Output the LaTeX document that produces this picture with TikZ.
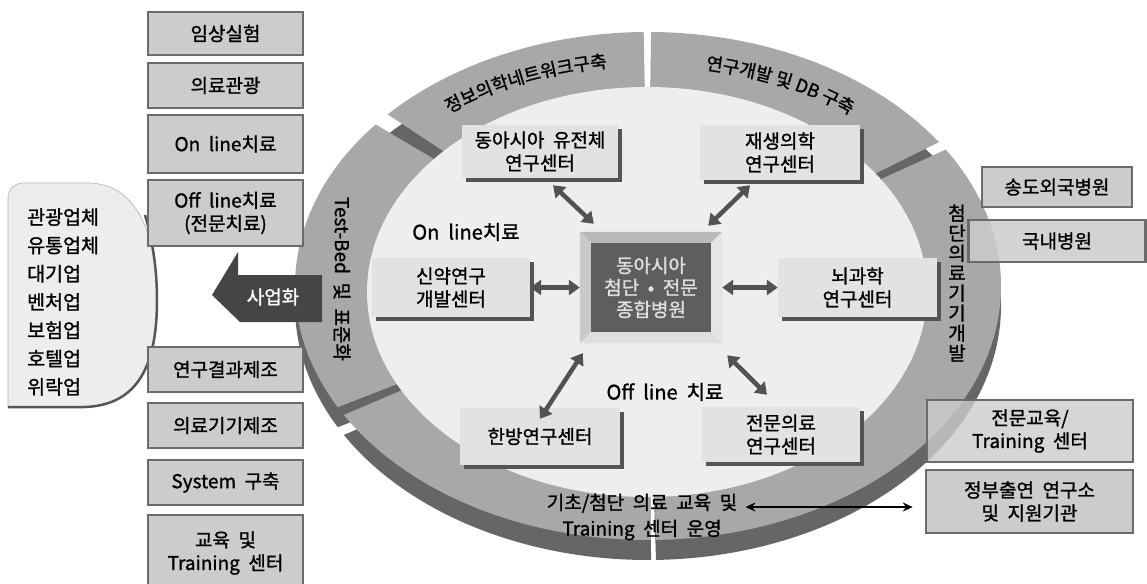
\documentclass[tikz,border=0pt]{standalone}
\usepackage{fontspec}
\setmainfont{Noto Sans CJK KR}[FakeBold=1.2]
\usetikzlibrary{arrows.meta,shadows,decorations.text,calc}
\definecolor{ringg}{gray}{0.66}
\definecolor{ringd}{gray}{0.40}
\definecolor{innerf}{gray}{0.935}
\definecolor{boxf}{gray}{0.885}
\definecolor{shad}{gray}{0.33}
\definecolor{colf}{gray}{0.80}
\definecolor{colb}{gray}{0.42}
\definecolor{arr}{gray}{0.32}
\definecolor{bizarr}{gray}{0.27}
\definecolor{cface}{gray}{0.37}
\definecolor{dshape}{gray}{0.93}
\newcommand\krf[2]{\fontsize{#1}{#2}\selectfont\spaceskip=0.45em\relax}
\newcommand\ringf{\fontsize{18pt}{18pt}\selectfont}
\begin{document}
\begin{tikzpicture}[x=1pt,y=1pt,
  colbox/.style={draw=colb, line width=2.5pt, fill=colf, inner sep=0pt, align=center, font=\krf{19pt}{23pt}},
  ibox/.style={fill=boxf, inner sep=0pt, align=center, font=\krf{19pt}{23pt},
     drop shadow={shadow xshift=3.5pt, shadow yshift=-3.5pt, fill=shad, opacity=1}},
  dbl/.style={{Triangle[length=11pt,width=15pt]}-{Triangle[length=11pt,width=15pt]}, line width=4.5pt, draw=arr},
  lbl/.style={inner sep=0pt, align=center, font=\krf{19pt}{26pt}}
]
\useasboundingbox (0,0) rectangle (1147,-583);
\fill[white] (0,0) rectangle (1147,-583);
\clip (0,0) rectangle (1147,-583);

% ---- ring (3D thickness, then top surface) ----
\begin{scope}[yshift=-20pt]
\foreach \a/\b in {-29/32.5, 34.5/89.5, 90.7/137.5, 140.5/208.5, 210.5/270.5, 271.3/331}
  \fill[ringd] (648,-286) -- +(\a:353 and 254) arc[start angle=\a, end angle=\b, x radius=353, y radius=254] -- cycle;
\end{scope}
\foreach \a/\b in {-29/32.5, 34.5/89.5, 90.7/137.5, 140.5/208.5, 210.5/270.5, 271.3/331}
  \fill[ringg] (648,-286) -- +(\a:353 and 254) arc[start angle=\a, end angle=\b, x radius=353, y radius=254] -- cycle;
\fill[innerf] (647,-292) ellipse [x radius=280, y radius=205];

% ring labels
\path[decorate, decoration={text along path, text align=center, text={|\ringf|정보의학네트워크구축}}]
  (648,-288) ++(133:322 and 222) arc[start angle=133, end angle=93, x radius=322, y radius=222];
\path[decorate, decoration={text along path, text align=center, text={|\ringf|연구개발 및 DB 구축}}]
  (648,-288) ++(86:322 and 222) arc[start angle=86, end angle=44, x radius=322, y radius=222];
\node[lbl, rotate=-90] (tb) at (342,-279) {Test-Bed 및 표준화};
\node[lbl, font=\krf{19pt}{20pt}] (cd) at (957,-283) {첨\\단\\의\\료\\기\\기\\개\\발};
\node[lbl] (bl) at (642,-517) {기초/첨단 의료 교육 및\\Training 센터 운영};

% ---- left rounded shape ----
\fill[dshape, draw=gray!60, line width=0.6pt] (8,-198) arc[start angle=180, end angle=90, radius=15] -- (90,-183)
  .. controls (140,-185) and (157,-240) .. (157,-300)
  .. controls (157,-362) and (140,-405) .. (85,-407) -- (8,-407) -- cycle;
\draw[colb!80!black, line width=2.5pt] (145,-215) .. controls (154,-245) and (157,-275) .. (157,-300)
  .. controls (157,-362) and (140,-405) .. (85,-407) -- (8,-407);
\node[lbl, anchor=west, align=left, font=\krf{19.5pt}{28.3pt}] (biz) at (27,-302)
  {관광업체\\유통업체\\대기업\\벤처업\\보험업\\호텔업\\위락업};

% ---- left column ----
\node[colbox, minimum width=155pt, minimum height=43pt] (b1) at (225.5,-33.5) {임상실험};
\node[colbox, minimum width=155pt, minimum height=45pt] (b2) at (225.5,-85.5) {의료관광};
\node[colbox, minimum width=155pt, minimum height=58pt] (b3) at (225.5,-144) {On line치료};
\node[colbox, minimum width=155pt, minimum height=66pt] (b4) at (225.5,-213) {Off line치료\\(전문치료)};
\node[colbox, minimum width=155pt, minimum height=45pt] (b5) at (225.5,-369.5) {연구결과제조};
\node[colbox, minimum width=155pt, minimum height=45pt] (b6) at (225.5,-425.5) {의료기기제조};
\node[colbox, minimum width=155pt, minimum height=45pt] (b7) at (225.5,-482.5) {System 구축};
\node[colbox, minimum width=155pt, minimum height=76pt] (b8) at (225.5,-553) {교육 및\\Training 센터};

% ---- 사업화 arrow ----
\fill[bizarr] (212,-295) -- (238,-252) -- (238,-275) -- (322,-275) -- (322,-322) -- (240,-322) -- cycle;
\node[lbl, text=white] (sa) at (273,-297) {사업화};

% ---- inner boxes ----
\node[ibox, minimum width=156pt, minimum height=53pt] (g1) at (540,-151.5) {동아시아 유전체\\연구센터};
\node[ibox, minimum width=160pt, minimum height=55pt] (g2) at (780,-152.5) {재생의학\\연구센터};
\node[ibox, minimum width=158pt, minimum height=59pt] (g3) at (451,-287.5) {신약연구\\개발센터};
\node[ibox, minimum width=159pt, minimum height=59pt] (g4) at (857.5,-287.5) {뇌과학\\연구센터};
\node[ibox, minimum width=160pt, minimum height=57pt] (g5) at (540,-436.5) {한방연구센터};
\node[ibox, minimum width=158pt, minimum height=55pt] (g6) at (781,-434.5) {전문의료\\연구센터};

\node[lbl, font=\krf{20pt}{26pt}] (on) at (466,-232) {On line치료};
\node[lbl, font=\krf{20pt}{26pt}] (off) at (665,-392) {Off line 치료};

% ---- center box ----
\node[minimum width=142pt, minimum height=111pt, inner sep=0pt] (c) at (651,-287.5) {};
\fill[gray!55] (c.north west) -- (c.north east) -- ($(c.north east)+(-11,-11)$) -- ($(c.north west)+(11,-11)$) -- cycle;
\fill[gray!42] (c.north west) -- ($(c.north west)+(11,-11)$) -- ($(c.south west)+(11,11)$) -- (c.south west) -- cycle;
\fill[gray!20] (c.north east) -- (c.south east) -- ($(c.south east)+(-11,11)$) -- ($(c.north east)+(-11,-11)$) -- cycle;
\fill[gray!26] (c.south west) -- (c.south east) -- ($(c.south east)+(-11,11)$) -- ($(c.south west)+(11,11)$) -- cycle;
\fill[cface] ($(c.north west)+(11,-11)$) rectangle ($(c.south east)+(-11,11)$);
\node[lbl, text=gray!25, font=\krf{19pt}{22pt}] (ct) at (c.center) {동아시아\\첨단 • 전문\\종합병원};

% ---- center arrows ----
\draw[dbl] ($(c.north west)+(14,8)$) -- ($(g1.south)+(13,-7)$);
\draw[dbl] ($(c.north east)+(-14,6)$) -- ($(g2.south)+(-30,-5)$);
\draw[dbl] (c.west) -- (g3.east);
\draw[dbl] (c.east) -- (g4.west);
\draw[dbl] ($(c.south west)+(3,-10)$) -- ($(g5.north)+(0,-11)$);
\draw[dbl] ($(c.south east)+(5,-12)$) -- ($(g6.north)+(-14,12)$);

% ---- right boxes ----
\node[colbox, minimum width=150pt, minimum height=40pt] (r1) at (1057,-187) {송도외국병원};
\node[colbox, fill opacity=0.85, text opacity=1, minimum width=177pt, minimum height=42pt] (r2) at (1057,-241) {국내병원};
\node[colbox, fill opacity=0.8, text opacity=1, minimum width=206pt, minimum height=62pt] (r3) at (1030,-431) {전문교육/\\Training 센터};
\node[colbox, minimum width=207pt, minimum height=63pt] (r4) at (1029.5,-501.5) {정부출연 연구소\\및 지원기관};

\coordinate (ae) at ($(r4.west)+(-12,-5.5)$);
\draw[{Stealth[length=10pt,width=9pt]}-{Stealth[length=10pt,width=9pt]}, line width=2.2pt] (bl.east |- ae) ++(8,0) -- (ae);
\end{tikzpicture}
\end{document}
